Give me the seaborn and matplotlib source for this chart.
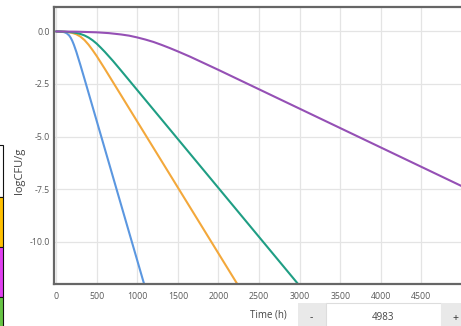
import matplotlib
matplotlib.use("Agg")
import matplotlib.pyplot as plt
from matplotlib.patches import Rectangle
import seaborn as sns
import pandas as pd

# ---- data (time in h, logCFU/g) ----
blue_t = [0, 60, 100, 130, 160, 180, 200, 220, 250, 300, 350, 1100]
blue_v = [0, -0.009, -0.034, -0.083, -0.186, -0.299, -0.452, -0.642, -0.977, -1.605, -2.261, -12.234]

orange_t = [0, 100, 150, 200, 250, 300, 350, 400, 450, 500, 600, 2260]
orange_v = [0, -0.014, -0.033, -0.069, -0.135, -0.246, -0.41, -0.63, -0.89, -1.17, -1.78, -12.2]

green_t = [0, 100, 200, 250, 300, 350, 400, 450, 500, 550, 600, 700, 800, 3010]
green_v = [0, -0.011, -0.041, -0.072, -0.12, -0.19, -0.29, -0.42, -0.58, -0.77, -0.97, -1.40, -1.86, -12.16]

purple_t = [0, 250, 500, 650, 800, 900, 1000, 1100, 1200, 1300, 1400, 1500, 1650, 1800, 2000, 2200, 5000]
purple_v = [0, -0.011, -0.041, -0.079, -0.143, -0.20, -0.285, -0.385, -0.50, -0.64, -0.79, -0.95, -1.20, -1.47, -1.83, -2.20, -7.37]

series_names = ["s1", "s2", "s3", "s4"]
series_colors = ["#5b97e0", "#f3a83b", "#1f9e84", "#9550b5"]

x_ticks = [0, 500, 1000, 1500, 2000, 2500, 3000, 3500, 4000, 4500]
y_ticks = [0.0, -2.5, -5.0, -7.5, -10.0]
x_label = "Time (h)"
y_label = "logCFU/g"
stepper_value = "4983"

# ---- build long table ----
frames = []
for name, t, v in zip(series_names,
                      [blue_t, orange_t, green_t, purple_t],
                      [blue_v, orange_v, green_v, purple_v]):
    frames.append(pd.DataFrame({"t": t, "v": v, "series": name}))
df = pd.concat(frames, ignore_index=True)

sns.set_theme(style="white")
plt.rcParams["font.family"] = ["Open Sans", "DejaVu Sans"]

W, H = 461, 326
fig = plt.figure(figsize=(W / 100, H / 100), dpi=100)
ax = fig.add_axes([54.3 / W, (H - 284) / H, (462.1 - 54.3) / W, (284 - 7.3) / H])

sns.lineplot(data=df, x="t", y="v", hue="series", hue_order=series_names,
             palette=series_colors, legend=False, ax=ax, linewidth=1.5,
             sort=False, estimator=None)

ax.set_xlim(-22, 5000)
ax.set_ylim(-12.02, 1.15)
ax.set_xticks(x_ticks)
ax.set_xticklabels([str(x) for x in x_ticks])
ax.set_yticks(y_ticks)
ax.set_yticklabels([f"{y:.1f}" for y in y_ticks])
ax.grid(True, color="#e4e4e4", linewidth=0.9)
ax.set_axisbelow(True)
ax.tick_params(axis="both", length=0, labelsize=6.3, labelcolor="#5a5a5a", pad=3)
ax.tick_params(axis="x", pad=6)
ax.set_xlabel("")
ax.set_ylabel(y_label, fontsize=8, color="#444444")
ax.yaxis.set_label_coords(-0.072, 0.41)

for side in ["left", "bottom", "top"]:
    ax.spines[side].set_visible(True)
    ax.spines[side].set_color("#666666")
    ax.spines[side].set_linewidth(1.6)
ax.spines["right"].set_visible(False)

# ---- bottom control strip (time stepper) ----
def fig_rect(x0, y0, x1, y1, **kw):
    r = Rectangle((x0 / W, 1 - y1 / H), (x1 - x0) / W, (y1 - y0) / H,
                  transform=fig.transFigure, **kw)
    fig.patches.append(r)

fig.text(268 / W, 1 - 315 / H, x_label, fontsize=7, color="#444444",
         ha="center", va="center")
fig_rect(297.7, 302.7, 325.7, 327, facecolor="#e9e9e9", edgecolor="none")
fig_rect(325.7, 302.7, 441, 327, facecolor="white", edgecolor="#dddddd", linewidth=0.8)
fig_rect(441, 302.7, 462, 327, facecolor="#e9e9e9", edgecolor="none")
fig.text(311.7 / W, 1 - 318 / H, "-", fontsize=7.5, color="#333333", ha="center", va="center")
fig.text(383 / W, 1 - 318 / H, stepper_value, fontsize=7, color="#444444", ha="center", va="center")
fig.text(455 / W, 1 - 318 / H, "+", fontsize=7.5, color="#333333", ha="center", va="center")

# ---- left-edge colour swatches (cut off UI) ----
fig_rect(-2, 145, 3.3, 196.7, facecolor="white", edgecolor="#111111", linewidth=0.8)
fig_rect(-2, 196.7, 3.3, 247.3, facecolor="#ffc000", edgecolor="#111111", linewidth=0.8)
fig_rect(-2, 247.3, 3.3, 297.3, facecolor="#e040f0", edgecolor="#111111", linewidth=0.8)
fig_rect(-2, 297.3, 3.3, 330, facecolor="#66c444", edgecolor="#111111", linewidth=0.8)

fig.savefig("out.png", dpi=100)
